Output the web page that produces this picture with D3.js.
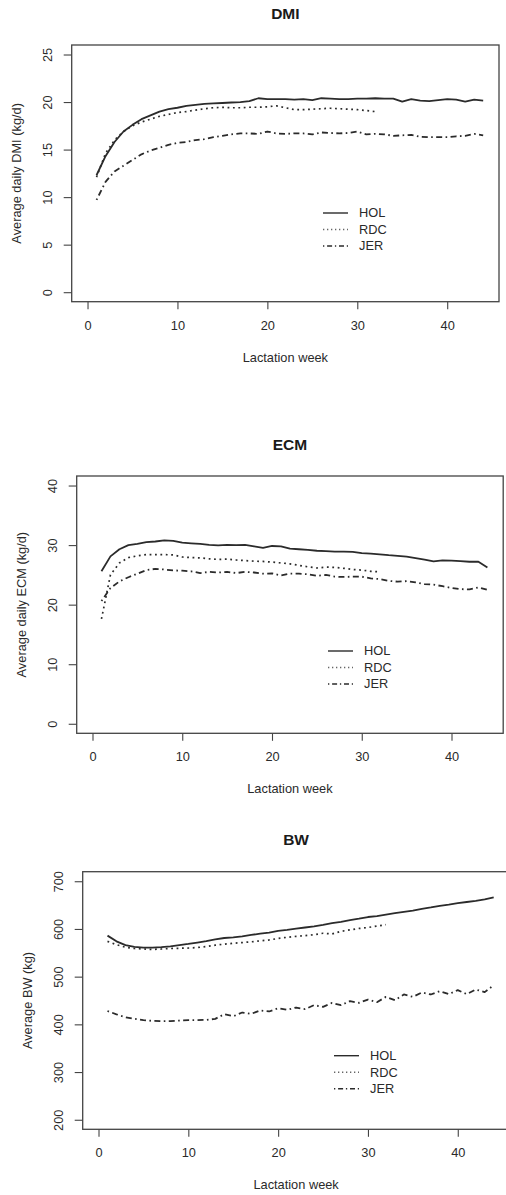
<!DOCTYPE html>
<html>
<head>
<meta charset="utf-8">
<script src="https://cdn.jsdelivr.net/npm/d3@7"></script>
<style>
  html, body { margin: 0; padding: 0; background: #fff; }
  svg { display: block; font-family: "Liberation Sans", Arial, sans-serif; }
</style>
</head>
<body>
<svg id="chart" width="506" height="1195"></svg>
<script>
// Lactation weeks
const weeks = [1,2,3,4,5,6,7,8,9,10,11,12,13,14,15,16,17,18,19,20,21,22,
  23,24,25,26,27,28,29,30,31,32,33,34,35,36,37,38,39,40,41,42,43,44];

const breeds = ["HOL", "RDC", "JER"];

// Average daily dry matter intake (kg/d)
const dmiHOL = [12.3, 14.3, 15.8, 16.9, 17.6, 18.2, 18.6, 19.0, 19.25, 19.4, 19.6, 19.7, 19.8, 19.85, 19.9,
  19.95, 20.0, 20.1, 20.4, 20.3, 20.3, 20.3, 20.25, 20.3, 20.2, 20.4, 20.35, 20.3, 20.3, 20.35, 20.35, 20.4,
  20.35, 20.35, 20.05, 20.3, 20.15, 20.1, 20.2, 20.3, 20.25, 20.05, 20.25, 20.15];
const dmiRDC = [12.1, 14.6, 16.0, 16.9, 17.5, 17.9, 18.2, 18.5, 18.7, 18.9, 19.0, 19.15, 19.3, 19.4, 19.45,
  19.4, 19.4, 19.45, 19.45, 19.5, 19.6, 19.4, 19.2, 19.2, 19.25, 19.3, 19.35, 19.3, 19.25, 19.2, 19.1, 19.0];
const dmiJER = [9.7, 11.6, 12.7, 13.3, 13.9, 14.5, 14.9, 15.2, 15.5, 15.7, 15.8, 16.0, 16.1, 16.3, 16.45,
  16.6, 16.7, 16.7, 16.65, 16.9, 16.7, 16.65, 16.7, 16.7, 16.6, 16.8, 16.75, 16.7, 16.75, 16.9, 16.6, 16.65,
  16.6, 16.45, 16.5, 16.55, 16.35, 16.3, 16.3, 16.3, 16.4, 16.45, 16.65, 16.5];

// Average daily energy corrected milk (kg/d)
const ecmHOL = [25.6, 28.1, 29.3, 30.0, 30.2, 30.5, 30.6, 30.8, 30.7, 30.4, 30.3, 30.2, 30.05, 29.95, 30.05,
  30.0, 30.05, 29.8, 29.55, 29.85, 29.8, 29.4, 29.3, 29.2, 29.05, 29.0, 28.9, 28.9, 28.85, 28.65, 28.55, 28.45,
  28.3, 28.2, 28.05, 27.8, 27.55, 27.25, 27.45, 27.4, 27.3, 27.2, 27.2, 26.25];
const ecmRDC = [17.6, 25.0, 27.0, 27.9, 28.2, 28.4, 28.4, 28.4, 28.35, 28.0, 27.9, 27.85, 27.7, 27.6, 27.65,
  27.5, 27.4, 27.3, 27.25, 27.15, 27.0, 26.85, 26.6, 26.35, 26.15, 26.3, 26.25, 26.1, 25.9, 25.8, 25.6, 25.5];
const ecmJER = [20.6, 22.8, 23.9, 24.6, 25.2, 25.8, 26.0, 25.9, 25.75, 25.7, 25.6, 25.3, 25.5, 25.4, 25.5,
  25.3, 25.5, 25.4, 25.2, 25.25, 24.9, 25.2, 25.2, 25.1, 24.85, 25.0, 24.7, 24.65, 24.7, 24.7, 24.4, 24.3,
  24.0, 23.85, 23.95, 23.75, 23.45, 23.35, 23.1, 22.8, 22.6, 22.55, 22.9, 22.5];

// Average body weight (kg)
const bwHOL = [586, 574, 566, 562.5, 561, 561, 562, 563.5, 566, 568.5, 571.5, 574.5, 578, 581, 582.5,
  584.5, 587.5, 590, 592.5, 596, 598, 600.5, 603, 605.5, 608.5, 612, 615, 618.5, 621.5, 625, 627, 630,
  633, 636, 638.5, 642, 645, 648.5, 651, 654, 656.5, 659, 662, 666];
const bwRDC = [574, 567, 561.5, 559, 558, 557, 558, 559, 559.5, 560, 561, 563, 566, 568, 570,
  571.5, 573, 575, 577, 580, 582.5, 584.5, 586, 588, 591, 589.5, 595, 598, 601, 603, 606, 609];
const bwJER = [428, 421, 415, 411.5, 408.7, 407.3, 406.6, 406.6, 408, 408.7, 408.7, 409.4, 411.5, 421.3, 417,
  424.8, 422, 429, 427, 433.9, 430.4, 435.3, 431.8, 440.2, 436.7, 445, 440.2, 448.6, 445, 452, 446.4, 457.6,
  450.7, 462.6, 457.7, 466.8, 462.6, 469.6, 463.3, 471.7, 463.3, 473, 467.5, 482.2];

// Axis tick values
const xTicks = [0, 10, 20, 30, 40];
const dmiTicks = [0, 5, 10, 15, 20, 25];
const ecmTicks = [0, 10, 20, 30, 40];
const bwTicks = [200, 300, 400, 500, 600, 700];

// Stroke pattern per breed: solid, dotted, dot-dash
const dashes = { HOL: null, RDC: "1.8,3.6", JER: "1.6,3.4,6,3.4" };
const legendDashes = { HOL: null, RDC: "1.3,2.7", JER: "1.3,2.8,5,2.8" };
const lineColor = "#2b2b2b";
const FS = 12.8;

// Panel layout: plot box in pixels, axis limits (R style, 4% padding)
const panels = [
  { title: "DMI", ylab: "Average daily DMI (kg/d)", series: [dmiHOL, dmiRDC, dmiJER], yTicks: dmiTicks,
    box: { x0: 71.7, x1: 499, y0: 45, y1: 301.7 }, ylim: [0, 25], legend: { x: 323, y: 213 } },
  { title: "ECM", ylab: "Average daily ECM (kg/d)", series: [ecmHOL, ecmRDC, ecmJER], yTicks: ecmTicks,
    box: { x0: 76.7, x1: 503.2, y0: 476, y1: 733.3 }, ylim: [0, 40], legend: { x: 328, y: 651 } },
  { title: "BW", ylab: "Average BW (kg)", series: [bwHOL, bwRDC, bwJER], yTicks: bwTicks,
    box: { x0: 82.7, x1: 509.5, y0: 871.7, y1: 1129.3 }, ylim: [200, 700], legend: { x: 334, y: 1055.7 } }
];
const xlim = [0, 44];

const svg = d3.select("#chart");
svg.append("rect").attr("width", 506).attr("height", 1195).attr("fill", "#fff");

function padded(lim) {
  const p = (lim[1] - lim[0]) * 0.04;
  return [lim[0] - p, lim[1] + p];
}

panels.forEach(p => {
  const b = p.box;
  const x = d3.scaleLinear().domain(padded(xlim)).range([b.x0, b.x1]);
  const y = d3.scaleLinear().domain(padded(p.ylim)).range([b.y1, b.y0]);
  const g = svg.append("g");

  // Title
  g.append("text")
    .attr("x", (b.x0 + b.x1) / 2).attr("y", b.y0 - 32 + 5.5)
    .attr("text-anchor", "middle").attr("font-weight", "bold")
    .attr("font-size", 15.5).attr("fill", "#1a1a1a").text(p.title);

  // X axis
  const xAxis = d3.axisBottom(x).tickValues(xTicks).tickSize(7.5).tickPadding(0).tickFormat(d3.format("d"));
  const gx = g.append("g").attr("transform", `translate(0,${b.y1})`).call(xAxis);
  gx.select(".domain").remove();
  gx.selectAll(".tick line").attr("stroke", "#444").attr("stroke-width", 1.1);
  gx.selectAll(".tick text").attr("font-size", FS).attr("fill", "#2a2a2a")
    .attr("font-family", "Liberation Sans, Arial, sans-serif")
    .attr("dy", null).attr("y", 28);

  // Y axis with labels parallel to the axis
  const yAxis = d3.axisLeft(y).tickValues(p.yTicks).tickSize(8).tickFormat(d3.format("d"));
  const gy = g.append("g").attr("transform", `translate(${b.x0},0)`).call(yAxis);
  gy.select(".domain").remove();
  gy.selectAll(".tick line").attr("stroke", "#444").attr("stroke-width", 1.1);
  gy.selectAll(".tick text")
    .attr("font-size", FS).attr("fill", "#2a2a2a")
    .attr("font-family", "Liberation Sans, Arial, sans-serif")
    .attr("x", null).attr("dy", null)
    .attr("text-anchor", "middle")
    .attr("transform", `translate(${-24 + 0.35 * FS},0) rotate(-90)`);

  // Axis titles
  g.append("text")
    .attr("x", (b.x0 + b.x1) / 2).attr("y", b.y1 + 55.5 + 0.35 * FS)
    .attr("text-anchor", "middle").attr("font-size", FS).attr("fill", "#2a2a2a")
    .text("Lactation week");
  g.append("text")
    .attr("transform", `translate(${b.x0 - 55 + 0.35 * FS},${(b.y0 + b.y1) / 2}) rotate(-90)`)
    .attr("text-anchor", "middle").attr("font-size", FS).attr("fill", "#2a2a2a")
    .text(p.ylab);

  // Series lines
  const line = d3.line().x((d, i) => x(weeks[i])).y(d => y(d));
  p.series.forEach((vals, k) => {
    const name = breeds[k];
    g.append("path")
      .datum(vals)
      .attr("d", line)
      .attr("fill", "none")
      .attr("stroke", lineColor)
      .attr("stroke-width", name === "RDC" ? 1.7 : 1.8)
      .attr("stroke-linejoin", "round")
      .attr("stroke-dasharray", dashes[name]);
  });

  // Plot box
  g.append("rect")
    .attr("x", b.x0).attr("y", b.y0)
    .attr("width", b.x1 - b.x0).attr("height", b.y1 - b.y0)
    .attr("fill", "none").attr("stroke", "#444").attr("stroke-width", 1.3);

  // Legend
  const lg = g.append("g");
  breeds.forEach((name, k) => {
    const yy = p.legend.y + k * 16.5;
    lg.append("line")
      .attr("x1", p.legend.x).attr("x2", p.legend.x + 25)
      .attr("y1", yy).attr("y2", yy)
      .attr("stroke", name === "RDC" ? "#666" : lineColor)
      .attr("stroke-width", 1.4)
      .attr("stroke-dasharray", legendDashes[name]);
    lg.append("text")
      .attr("x", p.legend.x + 36).attr("y", yy + 0.35 * FS)
      .attr("font-size", FS).attr("fill", "#2a2a2a")
      .text(name);
  });
});
</script>
</body>
</html>
